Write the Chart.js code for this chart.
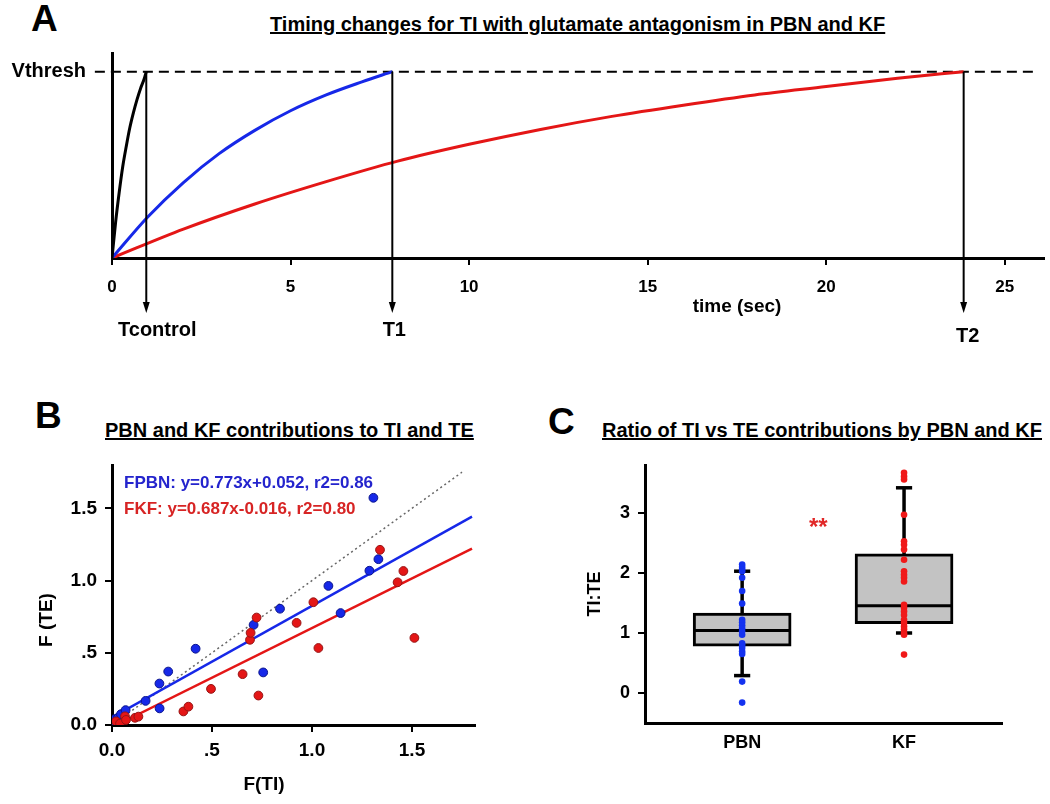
<!DOCTYPE html>
<html><head><meta charset="utf-8">
<script src="https://cdn.jsdelivr.net/npm/chart.js@4.4.0/dist/chart.umd.min.js"></script>
<style>
body{margin:0;background:#fff;width:1050px;height:804px;overflow:hidden;position:relative;font-family:"Liberation Sans",Arial,Helvetica,sans-serif;}
canvas{position:absolute;}
.lab{position:absolute;font-weight:bold;color:#000;white-space:nowrap;line-height:1;}
.letter{font-size:37px;}
.ttl{font-size:20px;text-decoration:underline;}
</style></head><body>
<div class="lab letter" style="left:31px;top:0px">A</div>
<div class="lab ttl" style="left:270px;top:14px">Timing changes for TI with glutamate antagonism in PBN and KF</div>
<div class="lab letter" style="left:35px;top:397px">B</div>
<div class="lab ttl" style="left:105px;top:420px">PBN and KF contributions to TI and TE</div>
<div class="lab letter" style="left:548px;top:403px">C</div>
<div class="lab ttl" style="left:602px;top:420px">Ratio of TI vs TE contributions by PBN and KF</div>
<canvas id="cA" width="1050" height="350" style="left:0;top:0"></canvas>
<canvas id="cB" width="520" height="420" style="left:0;top:380px"></canvas>
<canvas id="cC" width="530" height="420" style="left:520px;top:380px"></canvas>
<script>
// ---------- Panel A data ----------
const timeTicks = [0, 5, 10, 15, 20, 25];
const vthresh = 1;
const controlTime = [0, 0.1, 0.2, 0.3, 0.4, 0.5, 0.6, 0.7, 0.8, 0.9, 0.96];
const controlV    = [0, 0.19, 0.35, 0.49, 0.60, 0.70, 0.78, 0.85, 0.91, 0.96, 1.0];
const t1Time = [0, 1, 2, 3, 4, 5, 6, 7, 7.85];
const t1V    = [0, 0.22, 0.405, 0.56, 0.685, 0.79, 0.875, 0.945, 1.0];
const t2Time = [0, 2, 4, 6, 8, 10, 12, 14, 16, 18, 20, 22, 23.85];
const t2V    = [0, 0.155, 0.29, 0.41, 0.52, 0.61, 0.69, 0.76, 0.82, 0.875, 0.92, 0.965, 1.0];
const arrowTimes  = [0.96, 7.85, 23.85];
const arrowLabels = ['Tcontrol', 'T1', 'T2'];
const arrowTipV = -0.295;

// ---------- Panel B data ----------
const tiTicks = [0, 0.5, 1.0, 1.5];
const tiTickLabels = ['0.0', '.5', '1.0', '1.5'];
const teTicks = [0, 0.5, 1.0, 1.5];
const teTickLabels = ['0.0', '.5', '1.0', '1.5'];
const pbnTI = [0.005, 0.012, 0.03, 0.045, 0.068, 0.168, 0.238, 0.237, 0.281, 0.418, 0.708, 0.756, 0.840, 1.082, 1.143, 1.287, 1.332, 1.307];
const pbnTE = [0.015, 0.04, 0.05, 0.075, 0.103, 0.167, 0.115, 0.287, 0.370, 0.528, 0.693, 0.364, 0.805, 0.963, 0.775, 1.068, 1.148, 1.573];
const kfTI  = [0.02, 0.04, 0.065, 0.07, 0.115, 0.132, 0.357, 0.382, 0.495, 0.653, 0.690, 0.693, 0.723, 0.732, 0.923, 1.007, 1.032, 1.340, 1.428, 1.457, 1.512];
const kfTE  = [0.025, 0.01, 0.06, 0.035, 0.05, 0.058, 0.094, 0.127, 0.250, 0.352, 0.590, 0.638, 0.744, 0.204, 0.707, 0.850, 0.533, 1.213, 0.988, 1.066, 0.603];
const pbnFitX = [0, 1.8],     pbnFitY = [0.052, 1.443];
const kfFitX  = [0.023, 1.8], kfFitY  = [0, 1.221];
const identityX = [0, 1.75],  identityY = [0, 1.75];
const pbnEquation = 'FPBN: y=0.773x+0.052, r2=0.86';
const kfEquation  = 'FKF: y=0.687x-0.016, r2=0.80';

// ---------- Panel C data ----------
const boxCategories = ['PBN', 'KF'];
const boxPositions = [1, 2];
const boxQ1     = [0.78, 1.155];
const boxMedian = [1.04, 1.455];
const boxQ3     = [1.33, 2.32];
const whiskerLow  = [0.29, 1.00];
const whiskerHigh = [2.03, 3.42];
const ratioTicks = [0, 1, 2, 3];
const pbnRatios = [2.14, 2.10, 2.06, 2.03, 1.92, 1.70, 1.49, 1.22, 1.18, 1.13, 1.08, 1.03, 0.97, 0.83, 0.79, 0.75, 0.69, 0.65, 0.19, -0.16];
const kfRatios  = [3.67, 3.61, 3.56, 2.97, 2.53, 2.47, 2.39, 2.22, 2.03, 1.97, 1.92, 1.86, 1.47, 1.42, 1.36, 1.30, 1.22, 1.17, 1.11, 1.06, 1.00, 0.97, 0.64];
const sigMark = {x: 1.47, y: 2.82, text: '**'};

// ---------- helpers ----------
const FONT = '"Liberation Sans", Arial, Helvetica, sans-serif';
const BLUE = 'rgb(22,40,232)', RED = 'rgb(228,22,22)';
const xy = (xs, ys) => xs.map((x, i) => ({x, y: ys[i]}));
Chart.defaults.font.family = FONT;
Chart.defaults.font.weight = 'bold';
Chart.defaults.color = '#000';
Chart.defaults.animation = false;
Chart.defaults.events = [];
Chart.defaults.plugins.legend.display = false;
Chart.defaults.plugins.tooltip.enabled = false;

const fixTicks = vals => (s) => { s.ticks = vals.map(v => ({value: v})); };
const axisBase = (tickLen) => ({
  border: {display: true, color: '#000', width: 3},
  grid: {display: true, drawOnChartArea: false, drawTicks: tickLen > 0, tickLength: tickLen, color: '#000', lineWidth: 2}
});

// ---------- Panel A ----------
new Chart(document.getElementById('cA'), {
  type: 'scatter',
  data: {datasets: [
    {type: 'line', data: [{x: -0.48, y: vthresh}, {x: 25.8, y: vthresh}], borderColor: '#000', borderWidth: 2, borderDash: [10, 6], pointRadius: 0, clip: false, order: 4},
    {type: 'line', data: xy(controlTime, controlV), borderColor: '#000', borderWidth: 3, pointRadius: 0, cubicInterpolationMode: 'monotone', order: 0},
    {type: 'line', data: xy(t1Time, t1V), borderColor: BLUE, borderWidth: 3, pointRadius: 0, cubicInterpolationMode: 'monotone', order: 1},
    {type: 'line', data: xy(t2Time, t2V), borderColor: RED, borderWidth: 3, pointRadius: 0, cubicInterpolationMode: 'monotone', order: 2}
  ]},
  options: {
    responsive: false,
    layout: {padding: {left: 0, right: 6, top: 53, bottom: 0}},
    scales: {
      x: Object.assign(axisBase(7), {type: 'linear', min: 0, max: 26.1,
        afterBuildTicks: fixTicks(timeTicks), afterFit: s => { s.height = 92; },
        ticks: {font: {size: 17, weight: 'bold'}, padding: 12, autoSkip: false, maxRotation: 0, callback: v => String(v)}}),
      y: Object.assign(axisBase(0), {type: 'linear', min: 0, max: 1.1,
        afterBuildTicks: fixTicks([vthresh]), afterFit: s => { s.width = 112; },
        ticks: {font: {size: 20, weight: 'bold'}, padding: 26, callback: () => 'Vthresh'}})
    }
  },
  plugins: [{id: 'annA', afterDatasetsDraw(chart) {
    const ctx = chart.ctx, xs = chart.scales.x, ys = chart.scales.y;
    ctx.save();
    ctx.strokeStyle = '#000'; ctx.fillStyle = '#000'; ctx.lineWidth = 2;
    const yTop = ys.getPixelForValue(vthresh), yTip = ys.getPixelForValue(arrowTipV);
    const labelDx = [11, 2, 4], labelY = [330, 330, 336];
    arrowTimes.forEach((t, i) => {
      const px = xs.getPixelForValue(t);
      ctx.beginPath(); ctx.moveTo(px, yTop); ctx.lineTo(px, yTip - 6); ctx.stroke();
      ctx.beginPath(); ctx.moveTo(px, yTip); ctx.lineTo(px - 3.5, yTip - 11); ctx.lineTo(px + 3.5, yTip - 11); ctx.closePath(); ctx.fill();
      ctx.font = 'bold 20px ' + FONT; ctx.textAlign = 'center'; ctx.textBaseline = 'middle';
      ctx.fillText(arrowLabels[i], px + labelDx[i], labelY[i]);
    });
    ctx.font = 'bold 19px ' + FONT; ctx.textAlign = 'center'; ctx.textBaseline = 'middle';
    ctx.fillText('time (sec)', 737, 307);
    ctx.restore();
  }}]
});

// ---------- Panel B ----------
new Chart(document.getElementById('cB'), {
  type: 'scatter',
  data: {datasets: [
    {data: xy(kfTI, kfTE), backgroundColor: RED, borderColor: 'rgb(150,20,20)', borderWidth: 1, pointRadius: 4.4, order: 0},
    {data: xy(pbnTI, pbnTE), backgroundColor: BLUE, borderColor: 'rgb(10,20,140)', borderWidth: 1, pointRadius: 4.4, order: 1},
    {type: 'line', data: xy(pbnFitX, pbnFitY), borderColor: BLUE, borderWidth: 2.5, pointRadius: 0, order: 2},
    {type: 'line', data: xy(kfFitX, kfFitY), borderColor: RED, borderWidth: 2.5, pointRadius: 0, order: 3},
    {type: 'line', data: xy(identityX, identityY), borderColor: '#666', borderWidth: 1.5, borderDash: [2, 3], pointRadius: 0, order: 4}
  ]},
  options: {
    responsive: false,
    layout: {padding: {left: 0, right: 45, top: 85, bottom: 0}},
    scales: {
      x: Object.assign(axisBase(7), {type: 'linear', min: 0, max: 1.815,
        afterBuildTicks: fixTicks(tiTicks), afterFit: s => { s.height = 75; },
        ticks: {font: {size: 19, weight: 'bold'}, padding: 7, autoSkip: false, maxRotation: 0,
          callback: v => tiTickLabels[tiTicks.indexOf(v)]}}),
      y: Object.assign(axisBase(7), {type: 'linear', min: 0, max: 1.8,
        afterBuildTicks: fixTicks(teTicks), afterFit: s => { s.width = 112; },
        ticks: {font: {size: 19, weight: 'bold'}, padding: 8, callback: v => teTickLabels[teTicks.indexOf(v)]}})
    }
  },
  plugins: [{id: 'annB', afterDraw(chart) {
    const ctx = chart.ctx, a = chart.chartArea;
    ctx.save();
    ctx.font = 'bold 17px ' + FONT; ctx.textAlign = 'left'; ctx.textBaseline = 'middle';
    ctx.fillStyle = 'rgb(36,36,205)'; ctx.fillText(pbnEquation, a.left + 12, a.top + 18);
    ctx.fillStyle = 'rgb(215,36,36)'; ctx.fillText(kfEquation, a.left + 12, a.top + 44);
    ctx.fillStyle = '#000'; ctx.font = 'bold 19px ' + FONT; ctx.textAlign = 'center';
    ctx.fillText('F(TI)', 264, 405);
    ctx.translate(47, 240); ctx.rotate(-Math.PI / 2); ctx.fillText('F (TE)', 0, 0);
    ctx.restore();
  }}]
});

// ---------- Panel C ----------
const boxHalf = 0.30, capHalf = 0.05;
const cDatasets = [
  {data: pbnRatios.map(v => ({x: boxPositions[0], y: v})), backgroundColor: 'rgb(20,50,240)', borderWidth: 0, pointRadius: 3.3, order: 0},
  {data: kfRatios.map(v => ({x: boxPositions[1], y: v})), backgroundColor: 'rgb(240,25,25)', borderWidth: 0, pointRadius: 3.3, order: 0},
  {type: 'bar', data: boxPositions.map((p, i) => ({x: p, y: [boxQ1[i], boxQ3[i]]})), backgroundColor: '#c3c3c3', borderColor: '#000', borderWidth: 3, borderSkipped: false, barThickness: 98, grouped: false, order: 2}
];
boxPositions.forEach((p, i) => {
  const seg = (pts, w, ord) => cDatasets.push({type: 'line', data: pts, borderColor: '#000', borderWidth: w, pointRadius: 0, order: ord});
  seg([{x: p - boxHalf, y: boxMedian[i]}, {x: p + boxHalf, y: boxMedian[i]}], 3, 1);
  seg([{x: p, y: whiskerLow[i]}, {x: p, y: whiskerHigh[i]}], 3.5, 3);
  seg([{x: p - capHalf, y: whiskerLow[i]}, {x: p + capHalf, y: whiskerLow[i]}], 3.5, 1);
  seg([{x: p - capHalf, y: whiskerHigh[i]}, {x: p + capHalf, y: whiskerHigh[i]}], 3.5, 1);
});
new Chart(document.getElementById('cC'), {
  type: 'scatter',
  data: {datasets: cDatasets},
  options: {
    responsive: false,
    layout: {padding: {left: 0, right: 48, top: 85, bottom: 0}},
    scales: {
      x: {type: 'linear', min: 0.4, max: 2.605, offset: false,
        border: {display: true, color: '#000', width: 3},
        grid: {display: false, drawTicks: false},
        afterBuildTicks: fixTicks(boxPositions), afterFit: s => { s.height = 77; },
        ticks: {font: {size: 18, weight: 'bold'}, padding: 9, autoSkip: false, maxRotation: 0,
          callback: v => boxCategories[boxPositions.indexOf(v)]}},
      y: Object.assign(axisBase(7), {type: 'linear', min: -0.5, max: 3.8,
        afterBuildTicks: fixTicks(ratioTicks), afterFit: s => { s.width = 125; },
        ticks: {font: {size: 18, weight: 'bold'}, padding: 8, callback: v => String(v)}})
    }
  },
  plugins: [{id: 'annC', afterDraw(chart) {
    const ctx = chart.ctx, xs = chart.scales.x, ys = chart.scales.y;
    ctx.save();
    ctx.fillStyle = 'rgb(225,40,40)'; ctx.font = 'bold 24px ' + FONT; ctx.textAlign = 'center'; ctx.textBaseline = 'middle';
    ctx.fillText(sigMark.text, xs.getPixelForValue(sigMark.x), ys.getPixelForValue(sigMark.y) + 5);
    ctx.fillStyle = '#000'; ctx.font = 'bold 18px ' + FONT;
    ctx.translate(75, 214); ctx.rotate(-Math.PI / 2); ctx.fillText('TI:TE', 0, 0);
    ctx.restore();
  }}]
});
</script>
</body></html>
